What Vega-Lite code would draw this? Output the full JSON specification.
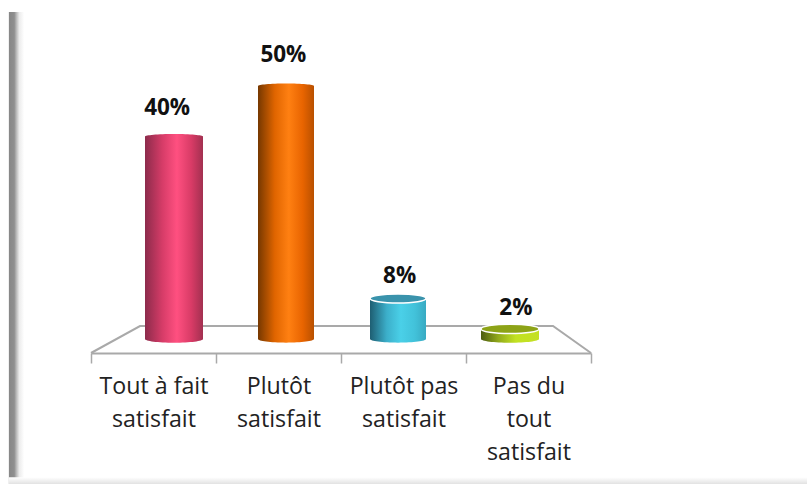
{
"$schema":"https://vega.github.io/schema/vega-lite/v6.json",
"width":807,"height":484,"padding":0,"autosize":{"type":"none"},
"background":"white",
"view":{"stroke":null},
"config":{"font":"Open Sans"},
"datasets":{
"answers":[
{"cat":"Tout à fait\nsatisfait","pct":40,"label":"40%"},
{"cat":"Plutôt\nsatisfait","pct":50,"label":"50%"},
{"cat":"Plutôt pas\nsatisfait","pct":8,"label":"8%"},
{"cat":"Pas du\ntout\nsatisfait","pct":2,"label":"2%"}],
"floor":[{"pos":0,"level":0},{"pos":0.392,"level":1},{"pos":3.696,"level":1},{"pos":4,"level":0}],
"frame":[{"part":"left","x0":1.1,"x1":3.0,"y0":2.5,"y1":100},{"part":"bottom","x0":1.1,"x1":100,"y0":98.6,"y1":100}]
},
"layer":[
{"data":{"name":"frame"},"transform":[{"filter":"datum.part==='left'"}],
 "mark":{"type":"rect","fill":{"gradient":"linear","x1":0,"x2":1,"y1":0,"y2":0,"stops":[{"offset":0,"color":"#878787"},{"offset":0.35,"color":"#8f8f8f"},{"offset":0.5,"color":"#bcbcbc"},{"offset":0.68,"color":"#ececec"},{"offset":1,"color":"#ffffff"}]}},
 "encoding":{"x":{"field":"x0","type":"quantitative","scale":{"domain":[0,100],"range":[0,807]},"axis":null},"x2":{"field":"x1"},"y":{"field":"y0","type":"quantitative","scale":{"domain":[0,100],"range":[0,484]},"axis":null},"y2":{"field":"y1"}}},
{"data":{"name":"frame"},"transform":[{"filter":"datum.part==='bottom'"}],
 "mark":{"type":"rect","fill":{"gradient":"linear","x1":0,"x2":0,"y1":0,"y2":1,"stops":[{"offset":0,"color":"#ffffff"},{"offset":1,"color":"#e2e2e2"}]}},
 "encoding":{"x":{"field":"x0","type":"quantitative","scale":{"domain":[0,100],"range":[0,807]},"axis":null},"x2":{"field":"x1"},"y":{"field":"y0","type":"quantitative","scale":{"domain":[0,100],"range":[0,484]},"axis":null},"y2":{"field":"y1"}}},
{"data":{"name":"floor"},
 "mark":{"type":"line","color":"#a9a9a9","strokeWidth":2},
 "encoding":{"x":{"field":"pos","type":"quantitative","scale":{"domain":[0,4],"range":[91,591]},"axis":null},"y":{"field":"level","type":"quantitative","scale":{"domain":[0,1],"range":[353,326]},"axis":null}}},
{"data":{"name":"answers"},
 "mark":{"type":"point","opacity":0},
 "encoding":{"x":{"field":"cat","type":"nominal","sort":null,"scale":{"type":"band","paddingInner":0,"paddingOuter":0,"range":[91,591]},
  "axis":{"title":null,"orient":"bottom","offset":-131,"domainColor":"#a9a9a9","domainWidth":2,"tickColor":"#a9a9a9","tickWidth":1.5,"tickSize":10,"tickBand":"extent","labelAngle":0,"labelAlign":"center","labelBaseline":"top","labelFont":"Open Sans","labelFontSize":23.2,"labelColor":"#222222","labelPadding":12,"labelLineHeight":33,"labelLimit":0,"labelOverlap":false,"labelBound":false,"grid":false,"labelExpr":"split(datum.label,'\\n')"}}}},

{"data":{"name":"answers"},"transform":[{"filter":"datum.pct===40"}],"layer":[
 {"mark":{"type":"bar","size":58,"fill":{"gradient":"linear","x1":0,"x2":1,"y1":0,"y2":0,"stops":[{"offset":0,"color":"#8c2b4b"},{"offset":0.3,"color":"#d63c68"},{"offset":0.55,"color":"#ff5080"},{"offset":0.8,"color":"#d83b66"},{"offset":1,"color":"#a23050"}]}},
  "encoding":{"x":{"field":"cat","type":"nominal","sort":null,"scale":{"type":"band","domain":["Tout à fait\nsatisfait","Plutôt\nsatisfait","Plutôt pas\nsatisfait","Pas du\ntout\nsatisfait"],"range":[118,566]},"axis":null},"y":{"field":"pct","type":"quantitative","scale":{"domain":[0,50],"range":[339,86]},"axis":null}}}]},
{"data":{"name":"answers"},"transform":[{"filter":"datum.pct===50"}],"layer":[
 {"mark":{"type":"bar","size":56,"fill":{"gradient":"linear","x1":0,"x2":1,"y1":0,"y2":0,"stops":[{"offset":0,"color":"#763800"},{"offset":0.3,"color":"#e06500"},{"offset":0.55,"color":"#ff8012"},{"offset":0.8,"color":"#e86400"},{"offset":1,"color":"#b85000"}]}},
  "encoding":{"x":{"field":"cat","type":"nominal","sort":null,"scale":{"type":"band","domain":["Tout à fait\nsatisfait","Plutôt\nsatisfait","Plutôt pas\nsatisfait","Pas du\ntout\nsatisfait"],"range":[118,566]},"axis":null},"y":{"field":"pct","type":"quantitative","scale":{"domain":[0,50],"range":[339,86]},"axis":null}}}]},
{"data":{"name":"answers"},"transform":[{"filter":"datum.pct===8"}],"layer":[
 {"mark":{"type":"bar","size":56,"fill":{"gradient":"linear","x1":0,"x2":1,"y1":0,"y2":0,"stops":[{"offset":0,"color":"#1e5e72"},{"offset":0.3,"color":"#3cafca"},{"offset":0.55,"color":"#4ad0e8"},{"offset":0.8,"color":"#42c2da"},{"offset":1,"color":"#38aac2"}]}},
  "encoding":{"x":{"field":"cat","type":"nominal","sort":null,"scale":{"type":"band","domain":["Tout à fait\nsatisfait","Plutôt\nsatisfait","Plutôt pas\nsatisfait","Pas du\ntout\nsatisfait"],"range":[118,566]},"axis":null},"y":{"field":"pct","type":"quantitative","scale":{"domain":[0,50],"range":[339,86]},"axis":null}}}]},
{"data":{"name":"answers"},"transform":[{"filter":"datum.pct===2"}],"layer":[
 {"mark":{"type":"bar","size":58,"fill":{"gradient":"linear","x1":0,"x2":1,"y1":0,"y2":0,"stops":[{"offset":0,"color":"#4c5c10"},{"offset":0.3,"color":"#92aa1c"},{"offset":0.6,"color":"#c2e222"},{"offset":1,"color":"#c4e024"}]}},
  "encoding":{"x":{"field":"cat","type":"nominal","sort":null,"scale":{"type":"band","domain":["Tout à fait\nsatisfait","Plutôt\nsatisfait","Plutôt pas\nsatisfait","Pas du\ntout\nsatisfait"],"range":[118,566]},"axis":null},"y":{"field":"pct","type":"quantitative","scale":{"domain":[0,50],"range":[339,86]},"axis":null}}}]},

{"data":{"name":"answers"},"transform":[{"filter":"datum.pct===40"}],
 "mark":{"type":"point","filled":true,"opacity":1,"strokeWidth":0,"size":3364,"shape":"M-1,0 A1,0.13 0 1 1 1,0 A1,0.13 0 1 1 -1,0 Z","fill":{"gradient":"linear","x1":0,"x2":1,"y1":0,"y2":0,"stops":[{"offset":0,"color":"#8c2b4b"},{"offset":0.3,"color":"#d63c68"},{"offset":0.55,"color":"#ff5080"},{"offset":0.8,"color":"#d83b66"},{"offset":1,"color":"#a23050"}]}},
 "encoding":{"x":{"field":"cat","type":"nominal","sort":null,"scale":{"type":"band","domain":["Tout à fait\nsatisfait","Plutôt\nsatisfait","Plutôt pas\nsatisfait","Pas du\ntout\nsatisfait"],"range":[118,566]},"axis":null},"y":{"datum":0,"type":"quantitative","scale":{"domain":[0,50],"range":[339,86]},"axis":null}}},
{"data":{"name":"answers"},"transform":[{"filter":"datum.pct===40"}],
 "mark":{"type":"point","filled":true,"opacity":1,"strokeWidth":0,"size":3364,"shape":"M-1,0 A1,0.09 0 1 1 1,0 A1,0.09 0 1 1 -1,0 Z","fill":{"gradient":"linear","x1":0,"x2":1,"y1":0,"y2":0,"stops":[{"offset":0,"color":"#8c2b4b"},{"offset":0.3,"color":"#d63c68"},{"offset":0.55,"color":"#ff5080"},{"offset":0.8,"color":"#d83b66"},{"offset":1,"color":"#a23050"}]}},
 "encoding":{"x":{"field":"cat","type":"nominal","sort":null,"scale":{"type":"band","domain":["Tout à fait\nsatisfait","Plutôt\nsatisfait","Plutôt pas\nsatisfait","Pas du\ntout\nsatisfait"],"range":[118,566]},"axis":null},"y":{"field":"pct","type":"quantitative","scale":{"domain":[0,50],"range":[339,86]},"axis":null}}},
{"data":{"name":"answers"},"transform":[{"filter":"datum.pct===50"}],
 "mark":{"type":"point","filled":true,"opacity":1,"strokeWidth":0,"size":3136,"shape":"M-1,0 A1,0.13 0 1 1 1,0 A1,0.13 0 1 1 -1,0 Z","fill":{"gradient":"linear","x1":0,"x2":1,"y1":0,"y2":0,"stops":[{"offset":0,"color":"#763800"},{"offset":0.3,"color":"#e06500"},{"offset":0.55,"color":"#ff8012"},{"offset":0.8,"color":"#e86400"},{"offset":1,"color":"#b85000"}]}},
 "encoding":{"x":{"field":"cat","type":"nominal","sort":null,"scale":{"type":"band","domain":["Tout à fait\nsatisfait","Plutôt\nsatisfait","Plutôt pas\nsatisfait","Pas du\ntout\nsatisfait"],"range":[118,566]},"axis":null},"y":{"datum":0,"type":"quantitative","scale":{"domain":[0,50],"range":[339,86]},"axis":null}}},
{"data":{"name":"answers"},"transform":[{"filter":"datum.pct===50"}],
 "mark":{"type":"point","filled":true,"opacity":1,"strokeWidth":0,"size":3136,"shape":"M-1,0 A1,0.09 0 1 1 1,0 A1,0.09 0 1 1 -1,0 Z","fill":{"gradient":"linear","x1":0,"x2":1,"y1":0,"y2":0,"stops":[{"offset":0,"color":"#763800"},{"offset":0.3,"color":"#e06500"},{"offset":0.55,"color":"#ff8012"},{"offset":0.8,"color":"#e86400"},{"offset":1,"color":"#b85000"}]}},
 "encoding":{"x":{"field":"cat","type":"nominal","sort":null,"scale":{"type":"band","domain":["Tout à fait\nsatisfait","Plutôt\nsatisfait","Plutôt pas\nsatisfait","Pas du\ntout\nsatisfait"],"range":[118,566]},"axis":null},"y":{"field":"pct","type":"quantitative","scale":{"domain":[0,50],"range":[339,86]},"axis":null}}},
{"data":{"name":"answers"},"transform":[{"filter":"datum.pct===8"}],
 "mark":{"type":"point","filled":true,"opacity":1,"strokeWidth":0,"size":3136,"shape":"M-1,0 A1,0.13 0 1 1 1,0 A1,0.13 0 1 1 -1,0 Z","fill":{"gradient":"linear","x1":0,"x2":1,"y1":0,"y2":0,"stops":[{"offset":0,"color":"#1e5e72"},{"offset":0.3,"color":"#3cafca"},{"offset":0.55,"color":"#4ad0e8"},{"offset":0.8,"color":"#42c2da"},{"offset":1,"color":"#38aac2"}]}},
 "encoding":{"x":{"field":"cat","type":"nominal","sort":null,"scale":{"type":"band","domain":["Tout à fait\nsatisfait","Plutôt\nsatisfait","Plutôt pas\nsatisfait","Pas du\ntout\nsatisfait"],"range":[118,566]},"axis":null},"y":{"datum":0,"type":"quantitative","scale":{"domain":[0,50],"range":[339,86]},"axis":null}}},
{"data":{"name":"answers"},"transform":[{"filter":"datum.pct===8"}],
 "mark":{"type":"point","filled":true,"opacity":1,"stroke":"#ffffff","strokeWidth":1.5,"size":3136,"shape":"M-1,0 A1,0.16 0 1 1 1,0 A1,0.16 0 1 1 -1,0 Z","fill":"#3a93ac"},
 "encoding":{"x":{"field":"cat","type":"nominal","sort":null,"scale":{"type":"band","domain":["Tout à fait\nsatisfait","Plutôt\nsatisfait","Plutôt pas\nsatisfait","Pas du\ntout\nsatisfait"],"range":[118,566]},"axis":null},"y":{"field":"pct","type":"quantitative","scale":{"domain":[0,50],"range":[339,86]},"axis":null}}},
{"data":{"name":"answers"},"transform":[{"filter":"datum.pct===2"}],
 "mark":{"type":"point","filled":true,"opacity":1,"strokeWidth":0,"size":3364,"shape":"M-1,0 A1,0.13 0 1 1 1,0 A1,0.13 0 1 1 -1,0 Z","fill":{"gradient":"linear","x1":0,"x2":1,"y1":0,"y2":0,"stops":[{"offset":0,"color":"#4c5c10"},{"offset":0.3,"color":"#92aa1c"},{"offset":0.6,"color":"#c2e222"},{"offset":1,"color":"#c4e024"}]}},
 "encoding":{"x":{"field":"cat","type":"nominal","sort":null,"scale":{"type":"band","domain":["Tout à fait\nsatisfait","Plutôt\nsatisfait","Plutôt pas\nsatisfait","Pas du\ntout\nsatisfait"],"range":[118,566]},"axis":null},"y":{"datum":0,"type":"quantitative","scale":{"domain":[0,50],"range":[339,86]},"axis":null}}},
{"data":{"name":"answers"},"transform":[{"filter":"datum.pct===2"}],
 "mark":{"type":"point","filled":true,"opacity":1,"stroke":"#ffffff","strokeWidth":1.5,"size":3364,"shape":"M-1,0 A1,0.16 0 1 1 1,0 A1,0.16 0 1 1 -1,0 Z","fill":"#8da317"},
 "encoding":{"x":{"field":"cat","type":"nominal","sort":null,"scale":{"type":"band","domain":["Tout à fait\nsatisfait","Plutôt\nsatisfait","Plutôt pas\nsatisfait","Pas du\ntout\nsatisfait"],"range":[118,566]},"axis":null},"y":{"field":"pct","type":"quantitative","scale":{"domain":[0,50],"range":[339,86]},"axis":null}}},

{"data":{"name":"answers"},
 "mark":{"type":"text","font":"Open Sans","fontSize":22.5,"fontWeight":"bold","color":"#111111","align":"center","baseline":"alphabetic"},
 "encoding":{"x":{"field":"cat","type":"nominal","sort":null,"scale":{"type":"band","domain":["Tout à fait\nsatisfait","Plutôt\nsatisfait","Plutôt pas\nsatisfait","Pas du\ntout\nsatisfait"],"range":[109,574]},"axis":null},"y":{"field":"pct","type":"quantitative","scale":{"domain":[0,50],"range":[325.5,62]},"axis":null},"text":{"field":"label","type":"nominal"}}}
],
"resolve":{"scale":{"x":"independent","y":"independent"}}
}
